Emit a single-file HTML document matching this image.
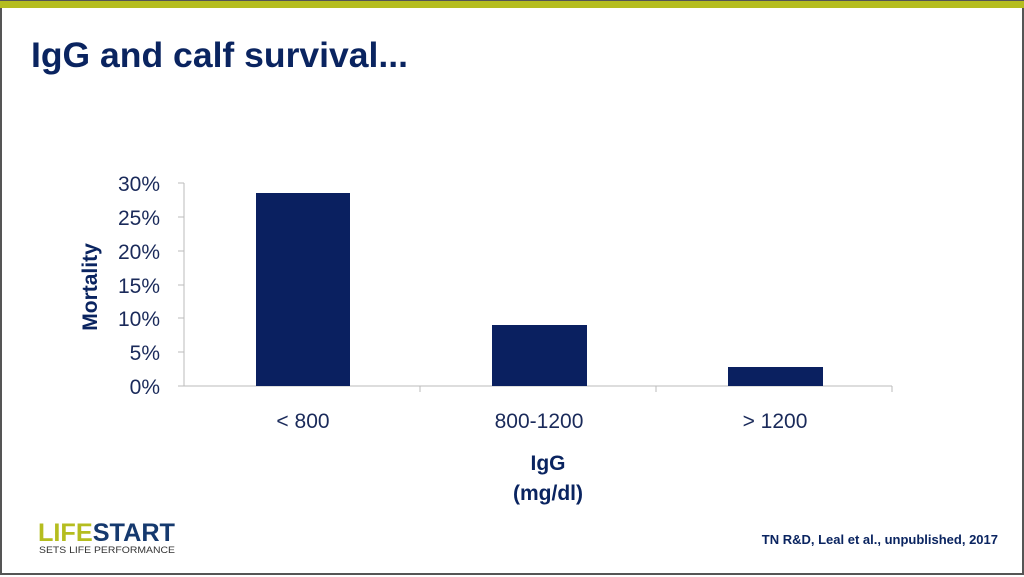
<!DOCTYPE html>
<html><head><style>
body{margin:0;width:1024px;height:577px;overflow:hidden;background:#fff;font-family:"Liberation Sans",sans-serif}
.frame{position:absolute;left:0;top:0;width:1020px;height:573px;border:2px solid #555;border-top:none}
.topbar{position:absolute;left:0;top:0;width:1024px;height:8px;background:#b5bd1f;border-top:1px solid #555;box-sizing:border-box}
.t{position:absolute;white-space:nowrap}
</style></head><body>
<div class="frame"></div>
<div class="topbar"></div>
<svg width="1024" height="577" style="position:absolute;left:0;top:0" font-family="Liberation Sans, sans-serif">
<text x="31" y="67" font-size="35" font-weight="bold" fill="#0a2460" textLength="377" lengthAdjust="spacingAndGlyphs">IgG and calf survival...</text>
<g stroke="#bbb" stroke-width="1">
<line x1="184" y1="183" x2="184" y2="386"/>
<line x1="178" y1="386" x2="892" y2="386"/>
<line x1="178" y1="183" x2="184" y2="183"/><line x1="178" y1="217" x2="184" y2="217"/><line x1="178" y1="251" x2="184" y2="251"/><line x1="178" y1="285" x2="184" y2="285"/><line x1="178" y1="318" x2="184" y2="318"/><line x1="178" y1="352" x2="184" y2="352"/>
<line x1="420" y1="386" x2="420" y2="392"/><line x1="656" y1="386" x2="656" y2="392"/><line x1="892" y1="386" x2="892" y2="392"/>
</g>
<g fill="#0a2060">
<rect x="256" y="193" width="94" height="193"/>
<rect x="492" y="325" width="95" height="61"/>
<rect x="728" y="367" width="95" height="19"/>
</g>
<g fill="#1a2a5a" font-size="21" text-anchor="end">
<text x="160" y="191">30%</text><text x="160" y="225">25%</text><text x="160" y="259">20%</text><text x="160" y="293">15%</text><text x="160" y="326">10%</text><text x="160" y="360">5%</text><text x="160" y="394">0%</text>
</g>
<g fill="#1a2a5a" font-size="21" text-anchor="middle">
<text x="303" y="428">&lt; 800</text><text x="539" y="428">800-1200</text><text x="775" y="428">&gt; 1200</text>
</g>
<g fill="#0a2460" font-size="21" font-weight="bold" text-anchor="middle">
<text x="548" y="470">IgG</text><text x="548" y="500">(mg/dl)</text>
<text transform="translate(97,287) rotate(-90)">Mortality</text>
</g>
<text x="38" y="541" font-size="25" font-weight="bold" textLength="137" lengthAdjust="spacingAndGlyphs"><tspan fill="#b5bd1f">LIFE</tspan><tspan fill="#15396e">START</tspan></text>
<text x="39" y="553" font-size="9.5" fill="#333" textLength="136" lengthAdjust="spacingAndGlyphs">SETS LIFE PERFORMANCE</text>
<text x="998" y="544" font-size="13" font-weight="bold" fill="#0a2460" text-anchor="end">TN R&amp;D, Leal et al., unpublished, 2017</text>
</svg>
</body></html>
